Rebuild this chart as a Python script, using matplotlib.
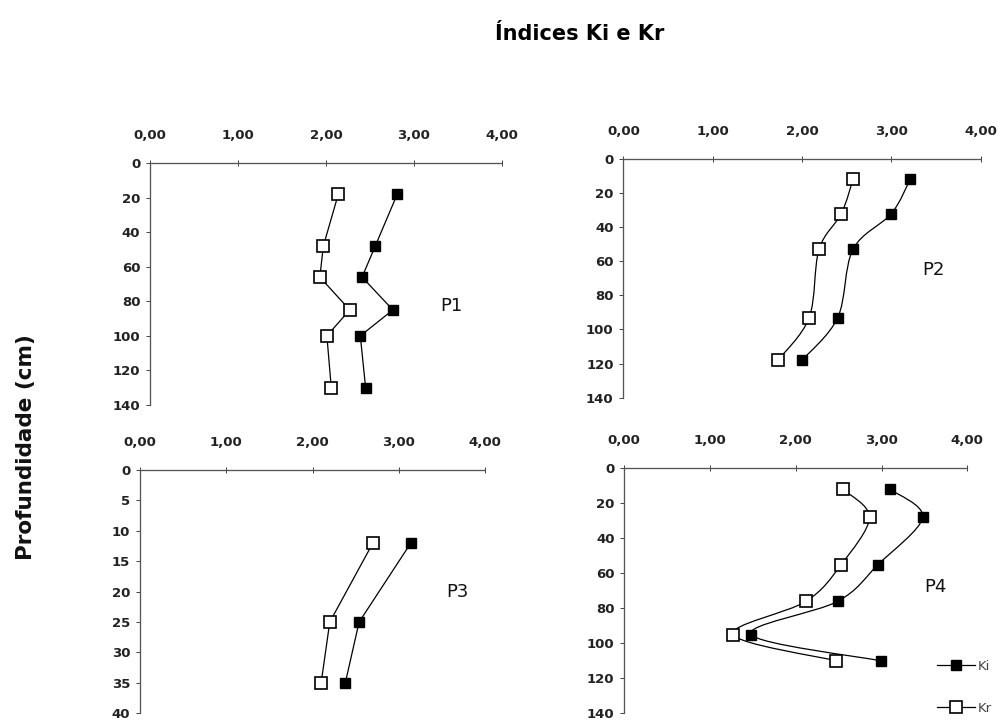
import matplotlib.pyplot as plt
import numpy as np
from matplotlib.path import Path
from matplotlib.patches import PathPatch
from matplotlib.lines import Line2D
from matplotlib import font_manager

# profile P1
p1_depth = [18, 48, 66, 85, 100, 130]
p1_ki = [2.81, 2.56, 2.41, 2.76, 2.39, 2.45]
p1_kr = [2.14, 1.97, 1.93, 2.27, 2.01, 2.06]

# profile P2
p2_depth = [12, 32, 53, 93, 118]
p2_ki = [3.21, 3.00, 2.57, 2.40, 2.00]
p2_kr = [2.57, 2.44, 2.19, 2.08, 1.73]

# profile P3
p3_depth = [12, 25, 35]
p3_ki = [3.14, 2.54, 2.38]
p3_kr = [2.70, 2.20, 2.10]

# profile P4
p4_depth = [12, 28, 55, 76, 95, 110]
p4_ki = [3.10, 3.48, 2.96, 2.49, 1.48, 2.99]
p4_kr = [2.55, 2.86, 2.53, 2.12, 1.27, 2.47]

x_ticks = [0, 1, 2, 3, 4]


def smooth_path(x, y):
    # catmull-rom style bezier, like excel "smoothed line"
    pts = np.column_stack([x, y]).astype(float)
    n = len(pts)
    verts = [pts[0]]
    codes = [Path.MOVETO]
    for i in range(n - 1):
        p0 = pts[i - 1] if i > 0 else pts[i]
        p1 = pts[i]
        p2 = pts[i + 1]
        p3 = pts[i + 2] if i + 2 < n else pts[i + 1]
        c1 = p1 + (p2 - p0) / 6.0
        c2 = p2 - (p3 - p1) / 6.0
        verts += [c1, c2, p2]
        codes += [Path.CURVE4] * 3
    return Path(verts, codes)


def draw_panel(ax, depth, ki, kr, ymax, ystep, name, nx, ny, smooth=False):
    if smooth:
        for vals in (ki, kr):
            ax.add_patch(PathPatch(smooth_path(vals, depth), fill=False,
                                   edgecolor='black', lw=0.9, zorder=2))
        ls = 'none'
    else:
        ls = '-'
    ax.plot(ki, depth, linestyle=ls, color='black', lw=0.9, marker='s',
            ms=7, mfc='black', mec='black', zorder=3)
    ax.plot(kr, depth, linestyle=ls, color='black', lw=0.9, marker='s',
            ms=8, mfc='white', mec='black', mew=1.2, zorder=3)
    ax.set_xlim(0, 4)
    ax.set_ylim(ymax, 0)
    ax.set_xticks(x_ticks)
    ax.set_xticklabels(['%d,00' % t for t in x_ticks])
    ax.set_yticks(np.arange(0, ymax + 1, ystep))
    ax.xaxis.tick_top()
    ax.tick_params(axis='x', direction='inout', length=4, width=0.6,
                   pad=13, labelsize=9.5, colors='#222222')
    ax.tick_params(axis='y', direction='out', length=3, width=0.6,
                   pad=4, labelsize=9.5, colors='#222222')
    for lab in ax.get_xticklabels() + ax.get_yticklabels():
        lab.set_fontweight('bold')
    for s in ('right', 'bottom'):
        ax.spines[s].set_visible(False)
    for s in ('top', 'left'):
        ax.spines[s].set_linestyle((0, (1, 0.6)))
        ax.spines[s].set_color('#555555')
        ax.spines[s].set_linewidth(0.9)
    ax.text(nx, ny, name, fontsize=13, color='#111111', ha='left', va='center')


fig = plt.figure(figsize=(9.98, 7.21), dpi=100)

ax1 = fig.add_axes([0.1503, 0.4383, 0.3527, 0.3356])
ax2 = fig.add_axes([0.6246, 0.4484, 0.3581, 0.3311])
ax3 = fig.add_axes([0.1403, 0.0107, 0.3457, 0.3374])
ax4 = fig.add_axes([0.6255, 0.0107, 0.3437, 0.3398])

draw_panel(ax1, p1_depth, p1_ki, p1_kr, 140, 20, 'P1', 3.3, 83)
draw_panel(ax2, p2_depth, p2_ki, p2_kr, 140, 20, 'P2', 3.35, 65, smooth=True)
draw_panel(ax3, p3_depth, p3_ki, p3_kr, 40, 5, 'P3', 3.55, 20)
draw_panel(ax4, p4_depth, p4_ki, p4_kr, 140, 20, 'P4', 3.5, 68, smooth=True)

handles = [
    Line2D([], [], color='black', lw=0.9, marker='s', ms=7, mfc='black', mec='black'),
    Line2D([], [], color='black', lw=0.9, marker='s', ms=8, mfc='white', mec='black', mew=1.2),
]
fig.legend(handles, ['Ki', 'Kr'], loc='center left', bbox_to_anchor=(0.939, 0.047),
           frameon=False, fontsize=9.5, labelcolor='#444444', handlelength=2.9,
           handletextpad=0.15, labelspacing=2.2, borderpad=0, borderaxespad=0)

# condensed title font if one is around
names = {f.name for f in font_manager.fontManager.ttflist}
title_fam = 'DejaVu Sans'
for cand in ['Liberation Sans Narrow', 'DejaVu Sans Condensed']:
    if cand in names:
        title_fam = cand
        break
fig.text(0.581, 0.953, 'Índices Ki e Kr', ha='center', va='center',
         fontsize=16 if title_fam != 'DejaVu Sans' else 15,
         fontweight='bold', family=title_fam)
fig.text(0.026, 0.38, 'Profundidade (cm)', rotation=90, ha='center', va='center',
         fontsize=15.5, fontweight='bold', color='#111111')

fig.savefig('out.png', dpi=100)
